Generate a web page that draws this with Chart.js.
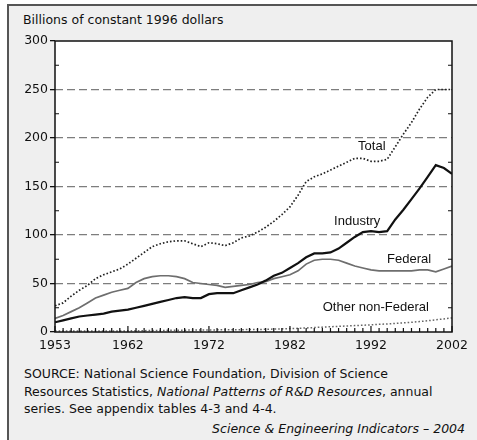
<!DOCTYPE html>
<html>
<head>
<meta charset="utf-8">
<script src="https://cdn.jsdelivr.net/npm/chart.js@4"></script>
<style>
  body { margin: 0; background: #fff; font-family: "DejaVu Sans", Arial, sans-serif; color: #111; }
  #frame { position: absolute; left: 7px; top: 4px; width: 480px; height: 440px;
           border-left: 2px solid #555; border-top: 2px solid #555; background: #efefef; }
  #unit { position: absolute; left: 23px; top: 12px; font-size: 12.5px; }
  #wrap { position: absolute; left: 0; top: 0; width: 477px; height: 360px; }
  #source { position: absolute; left: 24px; top: 365px; font-size: 12.5px; line-height: 17.5px; }
  #credit { position: absolute; right: 12px; top: 421px; font-size: 12.5px; font-style: italic; }
</style>
</head>
<body>
<div id="frame"></div>
<div id="unit">Billions of constant 1996 dollars</div>
<div id="wrap"><canvas id="rdChart" width="477" height="360"></canvas></div>
<div id="source">SOURCE: National Science Foundation, Division of Science<br>
Resources Statistics, <i>National Patterns of R&amp;D Resources</i>, annual<br>
series. See appendix tables 4-3 and 4-4.</div>
<div id="credit">Science &amp; Engineering Indicators – 2004</div>
<script>
// Years on the x axis
const years = [1953, 1954, 1955, 1956, 1957, 1958, 1959, 1960, 1961, 1962,
  1963, 1964, 1965, 1966, 1967, 1968, 1969, 1970, 1971, 1972,
  1973, 1974, 1975, 1976, 1977, 1978, 1979, 1980, 1981, 1982,
  1983, 1984, 1985, 1986, 1987, 1988, 1989, 1990, 1991, 1992,
  1993, 1994, 1995, 1996, 1997, 1998, 1999, 2000, 2001, 2002];
const yearTicks = [1953, 1962, 1972, 1982, 1992, 2002];
const valueTicks = [0, 50, 100, 150, 200, 250, 300];
const minorTicks = [25, 75, 125, 175, 225, 275];

// Series values (billions of constant 1996 dollars)
const total = [27, 30, 37, 43, 48, 55, 59, 62, 65, 70,
  76, 82, 88, 91, 93, 94, 94, 91, 88, 92,
  91, 89, 92, 97, 99, 103, 108, 114, 121, 129,
  141, 155, 160, 163, 167, 171, 175, 179, 179, 176,
  176, 178, 191, 204, 216, 230, 242, 250, 250, 250];
const industry = [10, 12, 14, 16, 17, 18, 19, 21, 22, 23,
  25, 27, 29, 31, 33, 35, 36, 35, 35, 39,
  40, 40, 40, 43, 46, 49, 53, 58, 61, 66,
  71, 77, 81, 81, 82, 86, 92, 98, 103, 104,
  103, 104, 116, 126, 137, 148, 160, 172, 169, 163];
const federal = [14, 17, 21, 25, 30, 35, 38, 41, 43, 45,
  51, 55, 57, 58, 58, 57, 55, 51, 50, 49,
  48, 46, 47, 48, 49, 51, 52, 55, 57, 59,
  63, 70, 74, 75, 75, 74, 71, 68, 66, 64,
  63, 63, 63, 63, 63, 64, 64, 62, 65, 68];
const otherNonFederal = [1, 1, 1, 1, 1, 1, 1, 1, 1, 1.2,
  1.3, 1.4, 1.5, 1.6, 1.7, 1.8, 1.9, 2, 2, 2.1,
  2.2, 2.2, 2.3, 2.4, 2.5, 2.6, 2.8, 3, 3.2, 3.5,
  3.8, 4.2, 4.6, 5, 5.4, 5.8, 6.2, 6.6, 7, 7.4,
  7.9, 8.3, 8.8, 9.4, 10, 10.8, 11.6, 12.6, 13.5, 14.5];

// Line labels placed in data coordinates
const seriesLabels = [
  { text: 'Total', x: 1992.1, y: 191 },
  { text: 'Industry', x: 1990.3, y: 114 },
  { text: 'Federal', x: 1996.7, y: 75 },
  { text: 'Other non-Federal', x: 1992.6, y: 25 }
];

const FONT = '"DejaVu Sans", Arial, sans-serif';
const LABEL_FONT = '"Liberation Sans", Arial, sans-serif';

const overlay = {
  id: 'overlay',
  beforeDraw(chart) {
    const { ctx, chartArea: a } = chart;
    ctx.save();
    ctx.fillStyle = '#fff';
    ctx.fillRect(a.left, a.top, a.right - a.left, a.bottom - a.top);
    ctx.restore();
  },
  afterDraw(chart) {
    const { ctx, chartArea: a, scales } = chart;
    const x = scales.x, y = scales.y;
    ctx.save();
    ctx.strokeStyle = '#111';
    ctx.lineWidth = 1.5;
    ctx.strokeRect(a.left, a.top, a.right - a.left, a.bottom - a.top);

    // small inside ticks on both value axes
    ctx.lineWidth = 1.2;
    ctx.beginPath();
    minorTicks.forEach(v => {
      const py = y.getPixelForValue(v);
      ctx.moveTo(a.left, py); ctx.lineTo(a.left + 4, py);
      ctx.moveTo(a.right, py); ctx.lineTo(a.right - 4, py);
    });
    // yearly ticks on the bottom axis
    years.forEach(yr => {
      const px = x.getPixelForValue(yr);
      const len = yearTicks.includes(yr) ? 6 : 4;
      ctx.moveTo(px, a.bottom); ctx.lineTo(px, a.bottom - len);
    });
    ctx.stroke();

    ctx.fillStyle = '#111';
    ctx.font = '13px ' + LABEL_FONT;
    ctx.textAlign = 'center';
    ctx.textBaseline = 'middle';
    seriesLabels.forEach(l => {
      ctx.fillText(l.text, x.getPixelForValue(l.x), y.getPixelForValue(l.y));
    });
    ctx.restore();
  }
};

const ctx = document.getElementById('rdChart').getContext('2d');
const rdChart = new Chart(ctx, {
  type: 'line',
  data: {
    labels: years,
    datasets: [
      { label: 'Total', data: total, borderColor: '#222', borderWidth: 1.7, borderDash: [1.6, 2] },
      { label: 'Industry', data: industry, borderColor: '#111', borderWidth: 2.2 },
      { label: 'Federal', data: federal, borderColor: '#6e6e6e', borderWidth: 1.7 },
      { label: 'Other non-Federal', data: otherNonFederal, borderColor: '#666', borderWidth: 1.5, borderDash: [1.6, 2] }
    ]
  },
  options: {
    responsive: false,
    animation: false,
    events: [],
    layout: { padding: { left: 0, right: 25, top: 41, bottom: 8 } },
    elements: { point: { radius: 0 }, line: { tension: 0 } },
    plugins: { legend: { display: false }, tooltip: { enabled: false } },
    scales: {
      x: {
        type: 'linear',
        min: 1953,
        max: 2002,
        afterBuildTicks: s => { s.ticks = yearTicks.map(v => ({ value: v })); },
        afterFit: s => { s.height = 20; },
        grid: { drawOnChartArea: false, drawTicks: false },
        border: { display: false },
        ticks: { padding: 6, color: '#111', font: { family: FONT, size: 12.5 }, callback: v => String(v) }
      },
      y: {
        min: 0,
        max: 300,
        afterBuildTicks: s => { s.ticks = valueTicks.map(v => ({ value: v })); },
        afterFit: s => { s.width = 55; },
        grid: {
          color: c => (c.tick && (c.tick.value === 0 || c.tick.value === 300)) ? 'rgba(0,0,0,0)' : '#7d7d7d',
          lineWidth: 1.3,
          tickColor: '#111',
          tickLength: 5,
          tickBorderDash: []
        },
        border: { display: false, dash: [8, 4] },
        ticks: { padding: 2, color: '#111', font: { family: FONT, size: 12.5 } }
      }
    }
  },
  plugins: [overlay]
});
</script>
</body>
</html>
